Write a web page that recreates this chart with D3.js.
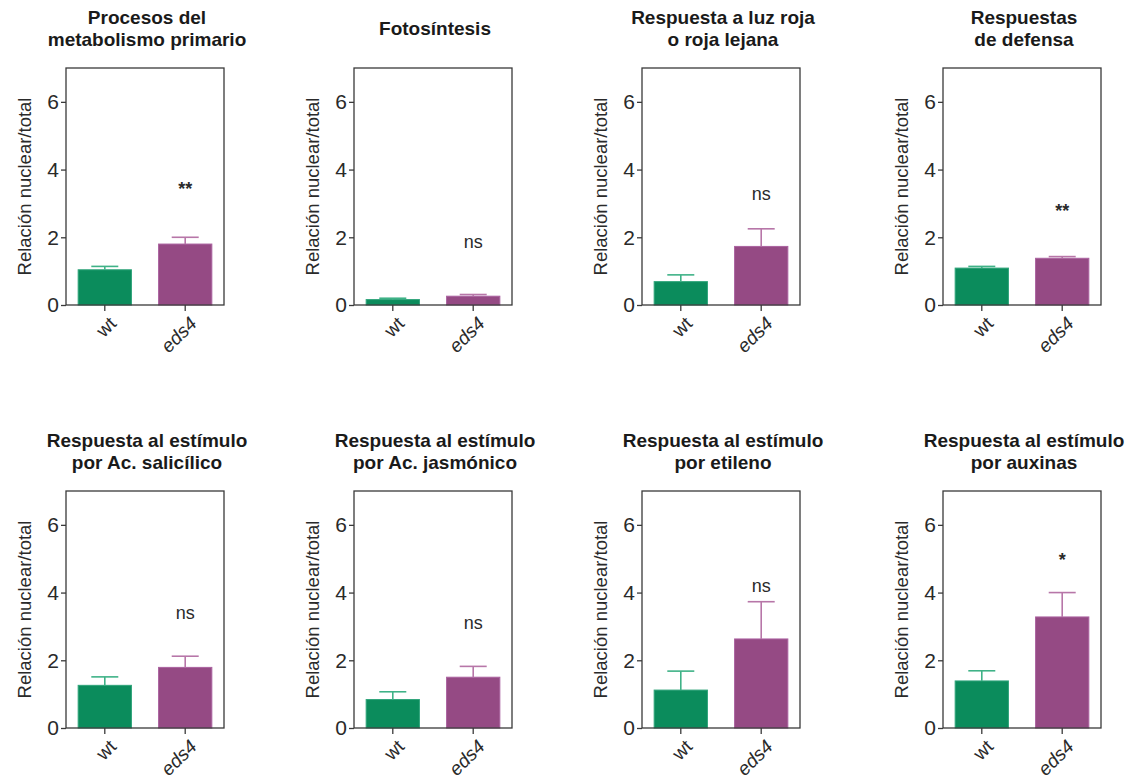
<!DOCTYPE html>
<html>
<head>
<meta charset="utf-8">
<script src="https://cdn.jsdelivr.net/npm/d3@7"></script>
<style>
  html, body { margin: 0; padding: 0; background: #fff; }
  svg { display: block; font-family: "Liberation Sans", Arial, sans-serif; }
</style>
</head>
<body>
<svg id="chart" width="1126" height="780"></svg>
<script>
// Gene ontology categories (one panel each)
const panelTitles = [
  ["Procesos del", "metabolismo primario"],
  ["Fotosíntesis"],
  ["Respuesta a luz roja", "o roja lejana"],
  ["Respuestas", "de defensa"],
  ["Respuesta al estímulo", "por Ac. salicílico"],
  ["Respuesta al estímulo", "por Ac. jasmónico"],
  ["Respuesta al estímulo", "por etileno"],
  ["Respuesta al estímulo", "por auxinas"]
];
const genotypes = ["wt", "eds4"];

// Mean nuclear/total ratio and standard error per panel
const wtMean   = [1.04, 0.16, 0.69, 1.09, 1.26, 0.84, 1.12, 1.39];
const wtSem    = [0.10, 0.04, 0.20, 0.05, 0.25, 0.23, 0.56, 0.30];
const eds4Mean = [1.80, 0.26, 1.73, 1.38, 1.79, 1.50, 2.63, 3.28];
const eds4Sem  = [0.20, 0.05, 0.52, 0.05, 0.33, 0.32, 1.10, 0.72];

// Significance of wt vs eds4 and the height where the mark is written
const signif  = ["**", "ns", "ns", "**", "ns", "ns", "ns", "*"];
const signifY = [3.63, 1.86, 3.30, 2.96, 3.41, 3.10, 4.20, 5.15];

const yTicks = [0, 2, 4, 6];
const yLabel = "Relación nuclear/total";

const colors = { wt: "#0b8c5c", eds4: "#954a84" };
const errColors = { wt: "#3fb287", eds4: "#b776a8" };
const edgeColors = { wt: "#2fa47a", eds4: "#ab62a0" };

// Panel frame positions
const colLeft = [66, 354, 642, 943];
const rowTop = [68, 491];
const plotW = 158, plotH = 237;

const svg = d3.select("#chart");

const y = d3.scaleLinear().domain([0, 7]).range([plotH, 0]);
const x = d3.scaleBand().domain(genotypes).range([0, plotW])
  .paddingInner(0.325).paddingOuter(0.145);

panelTitles.forEach((title, i) => {
  const row = Math.floor(i / 4), col = i % 4;
  const g = svg.append("g")
    .attr("transform", `translate(${colLeft[col]},${rowTop[row]})`);

  const vals = [
    { k: "wt", m: wtMean[i], e: wtSem[i] },
    { k: "eds4", m: eds4Mean[i], e: eds4Sem[i] }
  ];

  // bars
  g.selectAll("rect.bar").data(vals).enter().append("rect")
    .attr("class", "bar")
    .attr("x", d => x(d.k) + 0.5)
    .attr("width", x.bandwidth() - 1)
    .attr("y", d => y(d.m))
    .attr("height", d => y(0) - y(d.m))
    .attr("fill", d => colors[d.k])
    .attr("stroke", d => edgeColors[d.k])
    .attr("stroke-width", 1);

  // upper error bars
  const capW = 27;
  vals.forEach(d => {
    const cx = x(d.k) + x.bandwidth() / 2;
    g.append("line")
      .attr("x1", cx).attr("x2", cx)
      .attr("y1", y(d.m)).attr("y2", y(d.m + d.e))
      .attr("stroke", errColors[d.k]).attr("stroke-width", 1.6);
    g.append("line")
      .attr("x1", cx - capW / 2).attr("x2", cx + capW / 2)
      .attr("y1", y(d.m + d.e)).attr("y2", y(d.m + d.e))
      .attr("stroke", errColors[d.k]).attr("stroke-width", 1.6);
  });

  // frame
  g.append("rect")
    .attr("x", 0).attr("y", y(7))
    .attr("width", plotW).attr("height", y(0) - y(7))
    .attr("fill", "none").attr("stroke", "#3a3a3a").attr("stroke-width", 1.3);

  // y axis
  const ya = g.append("g")
    .call(d3.axisLeft(y).tickValues(yTicks).tickSize(5).tickPadding(2).tickFormat(d3.format("d")));
  ya.select(".domain").remove();
  ya.selectAll(".tick line").attr("stroke", "#3a3a3a").attr("stroke-width", 1.3);
  ya.selectAll(".tick text")
    .attr("font-size", 21).attr("fill", "#2a2a2a")
    .attr("font-family", "Liberation Sans, Arial, sans-serif");

  // x axis
  const xa = g.append("g").attr("transform", `translate(0,${plotH})`)
    .call(d3.axisBottom(x).tickSize(6).tickFormat(""));
  xa.select(".domain").remove();
  xa.selectAll(".tick line").attr("stroke", "#3a3a3a").attr("stroke-width", 1.3);

  genotypes.forEach(k => {
    const cx = x(k) + x.bandwidth() / 2;
    g.append("text")
      .attr("transform", `translate(${cx + 8},${plotH + 15}) rotate(-45)`)
      .attr("text-anchor", "end")
      .attr("dy", "0.35em")
      .attr("font-size", 19)
      .attr("font-style", k === "eds4" ? "italic" : "normal")
      .attr("fill", "#2a2a2a")
      .text(k);
  });

  // y axis label
  g.append("text")
    .attr("transform", `translate(-41,${plotH / 2}) rotate(-90)`)
    .attr("text-anchor", "middle")
    .attr("dy", "0.35em")
    .attr("font-size", 18.5)
    .attr("fill", "#2a2a2a")
    .text(yLabel);

  // significance mark above eds4
  const sx = x("eds4") + x.bandwidth() / 2;
  const star = signif[i].includes("*");
  g.append("text")
    .attr("x", sx).attr("y", y(signifY[i]))
    .attr("text-anchor", "middle")
    .attr("dy", star ? "0.7em" : "0.35em")
    .attr("font-size", 18)
    .attr("font-weight", star ? "bold" : "normal")
    .attr("fill", "#2a2a2a")
    .text(signif[i]);

  // title
  const lh = 22;
  const titleCenterY = -40;
  const t = g.append("text")
    .attr("text-anchor", "middle")
    .attr("font-size", 19)
    .attr("font-weight", "bold")
    .attr("fill", "#1a1a1a");
  title.forEach((line, j) => {
    t.append("tspan")
      .attr("x", plotW / 2 + 2)
      .attr("y", titleCenterY + (j - (title.length - 1) / 2) * lh)
      .attr("dy", "0.35em")
      .text(line);
  });
});
</script>
</body>
</html>
